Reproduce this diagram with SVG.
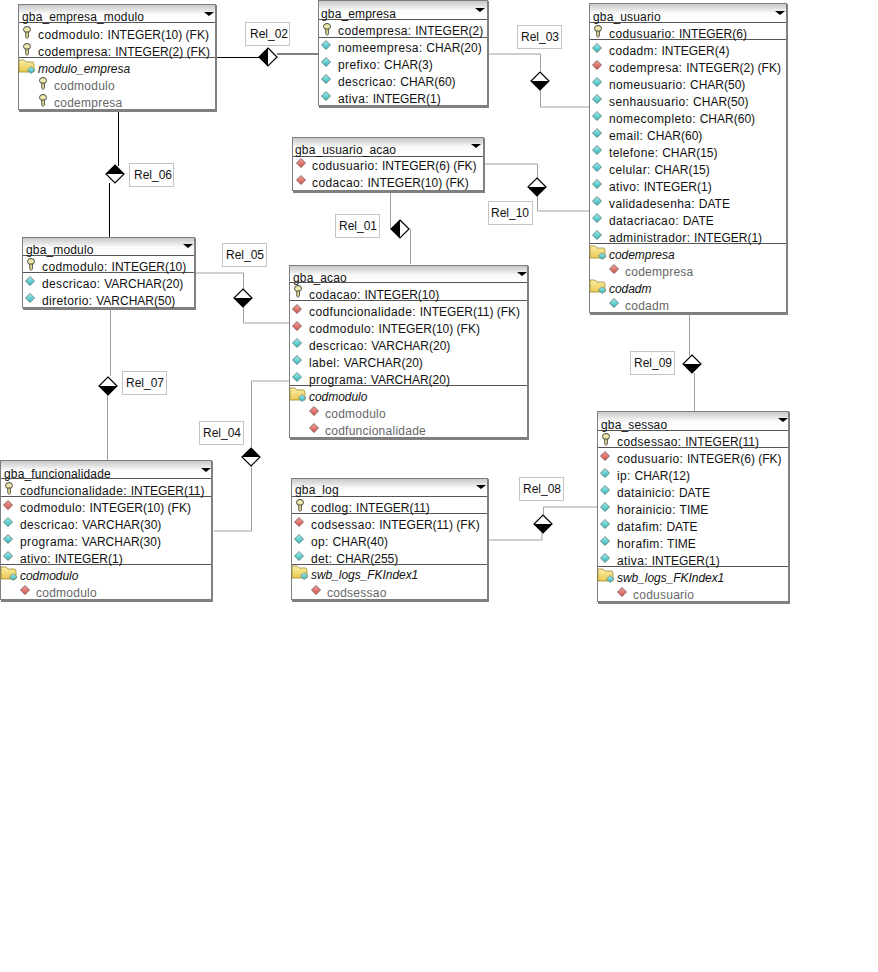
<svg xmlns="http://www.w3.org/2000/svg" width="878" height="972" viewBox="0 0 878 972">
<style>
text{font-family:"Liberation Sans",Arial,sans-serif;font-size:12px;letter-spacing:.38px;fill:#111}
tspan{letter-spacing:0}
.t{letter-spacing:.15px}
.r{letter-spacing:0}
.g{fill:#666;letter-spacing:.25px}.i{font-style:italic;letter-spacing:-.05px}
.box{fill:#fff;stroke:#7e7e7e;stroke-width:1}
.sh{fill:none;stroke:#808080;stroke-width:2}
.sep{stroke:#555;stroke-width:1}
.c{fill:none;stroke:#a0a0a0;stroke-width:1}
.k{fill:none;stroke:#000;stroke-width:1}
.lb{fill:#fff;stroke:#c4c4c4;stroke-width:1}
.dw{fill:#fff;stroke:#000;stroke-width:1.2}
.tri{fill:#000}
</style>
<defs>
<linearGradient id="tg" x1="0" y1="0" x2="0" y2="1"><stop offset="0" stop-color="#c8c8c8"/><stop offset=".55" stop-color="#fbfbfb"/><stop offset="1" stop-color="#fff"/></linearGradient>
<linearGradient id="gt" x1="0" y1="0" x2="0" y2="1"><stop offset="0" stop-color="#a5eeee"/><stop offset="1" stop-color="#2fb5bb"/></linearGradient>
<linearGradient id="gr" x1="0" y1="0" x2="0" y2="1"><stop offset="0" stop-color="#f0a59c"/><stop offset="1" stop-color="#d24f48"/></linearGradient>
<linearGradient id="gf" x1="0" y1="0" x2="0" y2="1"><stop offset="0" stop-color="#fbeea8"/><stop offset="1" stop-color="#ecc94f"/></linearGradient>
<g id="key"><ellipse cx="0" cy="-3.500" rx="3.500" ry="3" fill="#eee9a8" stroke="#444" stroke-width="1"/><path d="M-1.300-1V4L0 5.500 1.500 4V-1Z" fill="#d8d088" stroke="#444" stroke-width=".8"/></g>
<g id="dt"><path d="M0-4.500 4.500 0 0 4.500-4.500 0Z" fill="url(#gt)" stroke="#55706f" stroke-width=".8"/></g>
<g id="dr"><path d="M0-4.500 4.500 0 0 4.500-4.500 0Z" fill="url(#gr)" stroke="#705050" stroke-width=".8"/></g>
<g id="f"><path d="M-8-7h5l2 2h7l1 2v8h-15Z" fill="url(#gf)" stroke="#9a8a35" stroke-width=".8"/><path d="M4-.500 8 3 4 6.500 .5 3Z" fill="url(#gt)" stroke="#55706f" stroke-width=".6"/></g>
</defs>
<g id="connectors">
<path class="k" d="M216 57.500H259M277 54H318M118.500 110V166M109.500 183V237"/>
<path class="c" d="M488 54H540.500V71M540.500 90V107H589M484 164H537.500V178M537.500 196V211H589M390.500 192V229M410.500 229V264M195 273H243.500V289M243.500 307V323H289M110.500 308V376M107.500 395V460M289 381H251.500V447M251.500 466V531H214M488 540H542V533M543.500 514V507H597M689.500 314V356M694.500 373V411"/>
<path class="dw" d="M268 48 277 57 268 66 259 57Z"/><path class="tri" d="M268 48V66L259 57Z"/>
<path class="dw" d="M115 165 124 174 115 183 106 174Z"/><path class="tri" d="M106 174H124L115 165Z"/>
<path class="dw" d="M540 72 549 81 540 90 531 81Z"/><path class="tri" d="M531 81H549L540 90Z"/>
<path class="dw" d="M537 178 546 187 537 196 528 187Z"/><path class="tri" d="M528 187H546L537 196Z"/>
<path class="dw" d="M400 220 409 229 400 238 391 229Z"/><path class="tri" d="M400 220V238L391 229Z"/>
<path class="dw" d="M243 289 252 298 243 307 234 298Z"/><path class="tri" d="M234 298H252L243 307Z"/>
<path class="dw" d="M108 377 117 386 108 395 99 386Z"/><path class="tri" d="M99 386H117L108 395Z"/>
<path class="dw" d="M251 448 260 457 251 466 242 457Z"/><path class="tri" d="M242 457H260L251 448Z"/>
<path class="dw" d="M543 515 552 524 543 533 534 524Z"/><path class="tri" d="M534 524H552L543 533Z"/>
<path class="dw" d="M692 355 701 364 692 373 683 364Z"/><path class="tri" d="M683 364H701L692 373Z"/>
</g>
<g id="labels">
<g id="rel02"><rect class="lb" x="245.500" y="22.500" width="44" height="23"/><text class="r" x="250" y="38">Rel_02</text></g>
<g id="rel03"><rect class="lb" x="517.500" y="25.500" width="44" height="23"/><text class="r" x="521" y="41">Rel_03</text></g>
<g id="rel06"><rect class="lb" x="129.500" y="163.500" width="44" height="23"/><text class="r" x="134" y="179">Rel_06</text></g>
<g id="rel01"><rect class="lb" x="335.500" y="214.500" width="44" height="23"/><text class="r" x="339" y="230">Rel_01</text></g>
<g id="rel05"><rect class="lb" x="222.500" y="243.500" width="44" height="23"/><text class="r" x="226" y="259">Rel_05</text></g>
<g id="rel10"><rect class="lb" x="488.500" y="201.500" width="44" height="23"/><text class="r" x="491" y="217">Rel_10</text></g>
<g id="rel07"><rect class="lb" x="122.500" y="371.500" width="44" height="23"/><text class="r" x="126" y="387">Rel_07</text></g>
<g id="rel04"><rect class="lb" x="199.500" y="421.500" width="44" height="23"/><text class="r" x="203" y="437">Rel_04</text></g>
<g id="rel08"><rect class="lb" x="519.500" y="477.500" width="44" height="23"/><text class="r" x="523" y="493">Rel_08</text></g>
<g id="rel09"><rect class="lb" x="630.500" y="351.500" width="44" height="23"/><text class="r" x="634" y="367">Rel_09</text></g>
</g>
<g id="gba_empresa_modulo"><rect class="box" x="18.500" y="4.500" width="197" height="105"/><rect x="19" y="5" width="196" height="17" fill="url(#tg)"/><path class="sh" d="M216 5V111H19"/><path class="sep" d="M19 22.500H215M19 57.500H215"/><path class="tri" d="M204 12h10l-5 4Z"/>
<text class="t" x="22" y="21">gba_empresa_modulo</text>
<use href="#key" x="27" y="33"/><text x="38" y="39">codmodulo: <tspan>INTEGER(10) (FK)</tspan></text>
<use href="#key" x="27" y="50"/><text x="38" y="56">codempresa: <tspan>INTEGER(2) (FK)</tspan></text>
<use href="#f" x="27" y="67"/><text class="i" x="38" y="73">modulo_empresa</text>
<use href="#key" x="43" y="84"/><text class="g" x="54" y="90">codmodulo</text>
<use href="#key" x="43" y="101"/><text class="g" x="54" y="107">codempresa</text></g>
<g id="gba_empresa"><rect class="box" x="318.500" y="0.500" width="169" height="105"/><rect x="319" y="1" width="168" height="17" fill="url(#tg)"/><path class="sh" d="M488 1V107H319"/><path class="sep" d="M319 19.500H487M319 37.500H487"/><path class="tri" d="M475 8h10l-5 4Z"/>
<text class="t" x="321" y="18">gba_empresa</text>
<use href="#key" x="327" y="30"/><text x="338" y="35">codempresa: <tspan>INTEGER(2)</tspan></text>
<use href="#dt" x="326" y="45"/><text x="338" y="52">nomeempresa: <tspan>CHAR(20)</tspan></text>
<use href="#dt" x="326" y="62"/><text x="338" y="69">prefixo: <tspan>CHAR(3)</tspan></text>
<use href="#dt" x="326" y="79"/><text x="338" y="86">descricao: <tspan>CHAR(60)</tspan></text>
<use href="#dt" x="326" y="96"/><text x="338" y="103">ativa: <tspan>INTEGER(1)</tspan></text></g>
<g id="gba_usuario"><rect class="box" x="589.500" y="3.500" width="197" height="309"/><rect x="590" y="4" width="196" height="17" fill="url(#tg)"/><path class="sh" d="M787 4V314H590"/><path class="sep" d="M590 22.500H786M590 39.500H786M590 243.500H786"/><path class="tri" d="M775 11h10l-5 4Z"/>
<text class="t" x="593" y="21">gba_usuario</text>
<use href="#key" x="598" y="32"/><text x="609" y="38">codusuario: <tspan>INTEGER(6)</tspan></text>
<use href="#dt" x="597" y="48"/><text x="609" y="55">codadm: <tspan>INTEGER(4)</tspan></text>
<use href="#dr" x="597" y="65"/><text x="609" y="72">codempresa: <tspan>INTEGER(2) (FK)</tspan></text>
<use href="#dt" x="597" y="82"/><text x="609" y="89">nomeusuario: <tspan>CHAR(50)</tspan></text>
<use href="#dt" x="597" y="99"/><text x="609" y="106">senhausuario: <tspan>CHAR(50)</tspan></text>
<use href="#dt" x="597" y="116"/><text x="609" y="123">nomecompleto: <tspan>CHAR(60)</tspan></text>
<use href="#dt" x="597" y="133"/><text x="609" y="140">email: <tspan>CHAR(60)</tspan></text>
<use href="#dt" x="597" y="150"/><text x="609" y="157">telefone: <tspan>CHAR(15)</tspan></text>
<use href="#dt" x="597" y="167"/><text x="609" y="174">celular: <tspan>CHAR(15)</tspan></text>
<use href="#dt" x="597" y="184"/><text x="609" y="191">ativo: <tspan>INTEGER(1)</tspan></text>
<use href="#dt" x="597" y="201"/><text x="609" y="208">validadesenha: <tspan>DATE</tspan></text>
<use href="#dt" x="597" y="218"/><text x="609" y="225">datacriacao: <tspan>DATE</tspan></text>
<use href="#dt" x="597" y="235"/><text x="609" y="242">administrador: <tspan>INTEGER(1)</tspan></text>
<use href="#f" x="598" y="253"/><text class="i" x="609" y="259">codempresa</text>
<use href="#dr" x="614" y="269"/><text class="g" x="625" y="276">codempresa</text>
<use href="#f" x="598" y="287"/><text class="i" x="609" y="293">codadm</text>
<use href="#dt" x="614" y="303"/><text class="g" x="625" y="310">codadm</text></g>
<g id="gba_usuario_acao"><rect class="box" x="292.500" y="137.500" width="191" height="53"/><rect x="293" y="138" width="190" height="17" fill="url(#tg)"/><path class="sh" d="M484 138V192H293"/><path class="sep" d="M293 156.500H483"/><path class="tri" d="M471 144h10l-5 4Z"/>
<text class="t" x="295" y="154">gba_usuario_acao</text>
<use href="#dr" x="301" y="163"/><text x="312" y="170">codusuario: <tspan>INTEGER(6) (FK)</tspan></text>
<use href="#dr" x="301" y="180"/><text x="312" y="187">codacao: <tspan>INTEGER(10) (FK)</tspan></text></g>
<g id="gba_acao"><rect class="box" x="289.500" y="265.500" width="238" height="172"/><rect x="290" y="266" width="237" height="17" fill="url(#tg)"/><path class="sh" d="M528 266V439H290"/><path class="sep" d="M290 282.500H527M290 300.500H527M290 385.500H527"/><path class="tri" d="M517 272h10l-5 4Z"/>
<text class="t" x="293" y="282">gba_acao</text>
<use href="#key" x="298" y="292"/><text x="309" y="299">codacao: <tspan>INTEGER(10)</tspan></text>
<use href="#dr" x="297" y="309"/><text x="309" y="316">codfuncionalidade: <tspan>INTEGER(11) (FK)</tspan></text>
<use href="#dr" x="297" y="326"/><text x="309" y="333">codmodulo: <tspan>INTEGER(10) (FK)</tspan></text>
<use href="#dt" x="297" y="343"/><text x="309" y="350">descricao: <tspan>VARCHAR(20)</tspan></text>
<use href="#dt" x="297" y="360"/><text x="309" y="367">label: <tspan>VARCHAR(20)</tspan></text>
<use href="#dt" x="297" y="377"/><text x="309" y="384">programa: <tspan>VARCHAR(20)</tspan></text>
<use href="#f" x="298" y="395"/><text class="i" x="309" y="401">codmodulo</text>
<use href="#dr" x="314" y="411"/><text class="g" x="325" y="418">codmodulo</text>
<use href="#dr" x="314" y="428"/><text class="g" x="325" y="435">codfuncionalidade</text></g>
<g id="gba_modulo"><rect class="box" x="22.500" y="237.500" width="172" height="70"/><rect x="23" y="238" width="171" height="17" fill="url(#tg)"/><path class="sh" d="M195 238V309H23"/><path class="sep" d="M23 255.500H194M23 272.500H194"/><path class="tri" d="M183 244h10l-5 4Z"/>
<text class="t" x="26" y="254">gba_modulo</text>
<use href="#key" x="31" y="265"/><text x="42" y="271">codmodulo: <tspan>INTEGER(10)</tspan></text>
<use href="#dt" x="30" y="281"/><text x="42" y="288">descricao: <tspan>VARCHAR(20)</tspan></text>
<use href="#dt" x="30" y="298"/><text x="42" y="305">diretorio: <tspan>VARCHAR(50)</tspan></text></g>
<g id="gba_funcionalidade"><rect class="box" x="0.500" y="460.500" width="211" height="139"/><rect x="1" y="461" width="210" height="17" fill="url(#tg)"/><path class="sh" d="M212 461V601H1"/><path class="sep" d="M1 478.500H211M1 496.500H211M1 564.500H211"/><path class="tri" d="M201 468h10l-5 4Z"/>
<text class="t" x="4" y="478">gba_funcionalidade</text>
<use href="#key" x="9" y="489"/><text x="20" y="495">codfuncionalidade: <tspan>INTEGER(11)</tspan></text>
<use href="#dr" x="8" y="505"/><text x="20" y="512">codmodulo: <tspan>INTEGER(10) (FK)</tspan></text>
<use href="#dt" x="8" y="522"/><text x="20" y="529">descricao: <tspan>VARCHAR(30)</tspan></text>
<use href="#dt" x="8" y="539"/><text x="20" y="546">programa: <tspan>VARCHAR(30)</tspan></text>
<use href="#dt" x="8" y="556"/><text x="20" y="563">ativo: <tspan>INTEGER(1)</tspan></text>
<use href="#f" x="9" y="574"/><text class="i" x="20" y="580">codmodulo</text>
<use href="#dr" x="25" y="590"/><text class="g" x="36" y="597">codmodulo</text></g>
<g id="gba_log"><rect class="box" x="291.500" y="478.500" width="196" height="121"/><rect x="292" y="479" width="195" height="17" fill="url(#tg)"/><path class="sh" d="M488 479V601H292"/><path class="sep" d="M292 496.500H487M292 513.500H487M292 564.500H487"/><path class="tri" d="M476 485h10l-5 4Z"/>
<text class="t" x="295" y="494">gba_log</text>
<use href="#key" x="300" y="506"/><text x="311" y="512">codlog: <tspan>INTEGER(11)</tspan></text>
<use href="#dr" x="299" y="522"/><text x="311" y="529">codsessao: <tspan>INTEGER(11) (FK)</tspan></text>
<use href="#dt" x="299" y="539"/><text x="311" y="546">op: <tspan>CHAR(40)</tspan></text>
<use href="#dt" x="299" y="556"/><text x="311" y="563">det: <tspan>CHAR(255)</tspan></text>
<use href="#f" x="300" y="573"/><text class="i" x="311" y="579">swb_logs_FKIndex1</text>
<use href="#dr" x="316" y="590"/><text class="g" x="327" y="597">codsessao</text></g>
<g id="gba_sessao"><rect class="box" x="597.500" y="411.500" width="191" height="190"/><rect x="598" y="412" width="190" height="17" fill="url(#tg)"/><path class="sh" d="M789 412V603H598"/><path class="sep" d="M598 430.500H788M598 447.500H788M598 566.500H788"/><path class="tri" d="M778 418h10l-5 4Z"/>
<text class="t" x="601" y="429">gba_sessao</text>
<use href="#key" x="606" y="440"/><text x="617" y="446">codsessao: <tspan>INTEGER(11)</tspan></text>
<use href="#dr" x="605" y="456"/><text x="617" y="463">codusuario: <tspan>INTEGER(6) (FK)</tspan></text>
<use href="#dt" x="605" y="473"/><text x="617" y="480">ip: <tspan>CHAR(12)</tspan></text>
<use href="#dt" x="605" y="490"/><text x="617" y="497">datainicio: <tspan>DATE</tspan></text>
<use href="#dt" x="605" y="507"/><text x="617" y="514">horainicio: <tspan>TIME</tspan></text>
<use href="#dt" x="605" y="524"/><text x="617" y="531">datafim: <tspan>DATE</tspan></text>
<use href="#dt" x="605" y="541"/><text x="617" y="548">horafim: <tspan>TIME</tspan></text>
<use href="#dt" x="605" y="558"/><text x="617" y="565">ativa: <tspan>INTEGER(1)</tspan></text>
<use href="#f" x="606" y="576"/><text class="i" x="617" y="582">swb_logs_FKIndex1</text>
<use href="#dr" x="622" y="592"/><text class="g" x="633" y="599">codusuario</text></g>
</svg>
